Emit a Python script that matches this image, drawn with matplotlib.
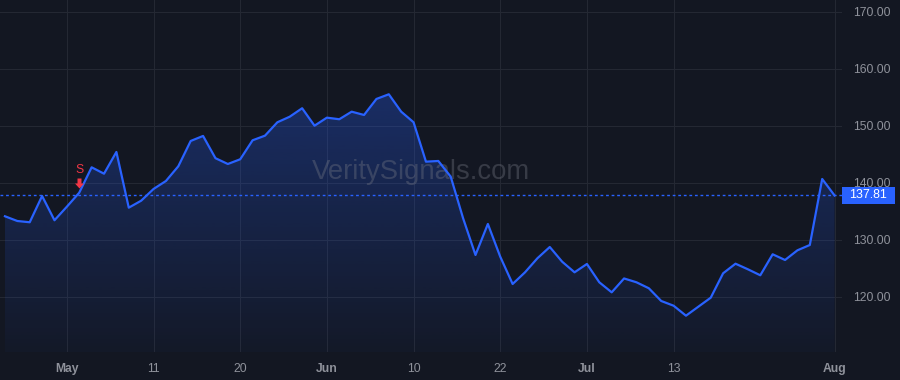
import numpy as np
import matplotlib
matplotlib.use("Agg")
import matplotlib.pyplot as plt
from matplotlib.patches import Rectangle, Polygon
from matplotlib.path import Path
import matplotlib.transforms as mtransforms

# ---- data ----
prices = [134.16, 133.33, 133.11, 137.72, 133.46, 135.84, 138.30, 142.75, 141.63, 145.44,
          135.67, 136.89, 138.95, 140.35, 142.93, 147.37, 148.25, 144.35, 143.33, 144.16,
          147.49, 148.30, 150.65, 151.63, 153.11, 150.05, 151.46, 151.18, 152.51, 151.93,
          154.74, 155.56, 152.51, 150.65, 143.74, 143.86, 141.11, 133.81, 127.37, 132.81,
          127.07, 122.28, 124.33, 126.79, 128.77, 126.19, 124.33, 125.79, 122.58, 120.82,
          123.25, 122.58, 121.53, 119.30, 118.47, 116.72, 118.30, 119.88, 124.16, 125.84,
          124.86, 123.81, 127.49, 126.49, 128.19, 129.12, 140.70, 137.81]
tick_idx = [5, 12, 19, 26, 33, 40, 47, 54, 67]
tick_labels = ["May", "11", "20", "Jun", "10", "22", "Jul", "13", "Aug"]
tick_bold = ["May", "Jun", "Jul", "Aug"]
y_ticks = [120, 130, 140, 150, 160, 170]
signal_idx = 6
signal_label = "S"
last_price = 137.81
watermark = "VeritySignals.com"

BG = "#131722"
GRID = "#242833"
LINE = "#2962FF"
TXT = "#8f929b"
RED = "#F23645"

plt.rcParams['font.family'] = ['Liberation Sans', 'DejaVu Sans']

fig = plt.figure(figsize=(9, 3.8), dpi=100, facecolor=BG)
ax = fig.add_axes([0, 28 / 380, 842 / 900, 352 / 380])
ax.set_facecolor(BG)

x = np.arange(len(prices))
y = np.array(prices)
ylo, yhi = 110.35, 172.1
ax.set_xlim(-0.4, 67.6)
ax.set_ylim(ylo, yhi)

# gradient fill under the line
verts = np.vstack([np.column_stack([x, y]), [[x[-1], ylo], [x[0], ylo]]])
poly = Polygon(verts, closed=True, facecolor='none', edgecolor='none')
ax.add_patch(poly)
grad = np.linspace(0.0, 1.0, 256)
rgba = np.zeros((256, 1, 4))
rgba[:, 0, 0] = 0x29 / 255
rgba[:, 0, 1] = 0x62 / 255
rgba[:, 0, 2] = 1.0
rgba[:, 0, 3] = 0.03 + 0.27 * grad
im = ax.imshow(rgba, extent=[x[0], x[-1], ylo, max(prices)], origin='lower',
               aspect='auto', zorder=1, interpolation='bilinear')
im.set_clip_path(poly)

ax.plot(x, y, color=LINE, lw=1.6, zorder=3, solid_joinstyle='round')

# last-price dotted line
ax.axhline(last_price, color=LINE, lw=1.0, ls=(0, (2, 2)), zorder=2)

# grid
for v in y_ticks:
    ax.axhline(v, color=GRID, lw=0.8, zorder=0)
for t in tick_idx:
    ax.axvline(t, color=GRID, lw=0.8, zorder=0)

for s in ax.spines.values():
    s.set_visible(False)

ax.set_xticks(tick_idx)
ax.set_xticklabels(tick_labels)
for lab in ax.get_xticklabels():
    lab.set_color(TXT)
    lab.set_fontsize(8.7)
    if lab.get_text() in tick_bold:
        lab.set_fontweight('bold')
ax.tick_params(axis='x', length=0, pad=8)

ax.yaxis.tick_right()
ax.set_yticks(y_ticks)
ax.set_yticklabels([f"{v:.2f}" for v in y_ticks])
ax.tick_params(axis='y', length=0, pad=8, labelsize=8.7, labelcolor=TXT)

# watermark
ax.text(0.5, 0.511, watermark, transform=ax.transAxes, ha='center', va='center',
        fontsize=19.8, color='#787b86', alpha=0.36, zorder=2)

# signal marker: arrow pointing down + "S"
arrow_path = Path([(0, -5), (4.5, 0), (2, 0), (2, 5), (-2, 5), (-2, 0), (-4.5, 0), (0, -5)],
                  [Path.MOVETO] + [Path.LINETO] * 6 + [Path.CLOSEPOLY])
sy = prices[signal_idx]
arr_tr = mtransforms.offset_copy(ax.transData, fig=fig, x=0, y=10 * 72 / 100, units='points')
ax.plot([signal_idx], [sy], marker=arrow_path, markersize=7.2, color=RED,
        markeredgewidth=0, linestyle='none', transform=arr_tr, zorder=5)
ax.annotate(signal_label, xy=(signal_idx, sy), xycoords='data',
            xytext=(0, 16.5), textcoords='offset points', ha='center', va='center',
            fontsize=8.7, color=RED, zorder=5)

# last price label box
fig.canvas.draw()
px = ax.transData.transform((0, last_price))[1]
h = 17
fig.add_artist(Rectangle((842 / 900, (px - h / 2) / 380), 53 / 900, h / 380,
                         transform=fig.transFigure, facecolor=LINE, edgecolor='none',
                         zorder=10))
fig.text(868.5 / 900, px / 380, f"{last_price:.2f}", ha='center', va='center',
         color='white', fontsize=8.9, zorder=11)

fig.savefig("out.png", dpi=100, facecolor=BG)
